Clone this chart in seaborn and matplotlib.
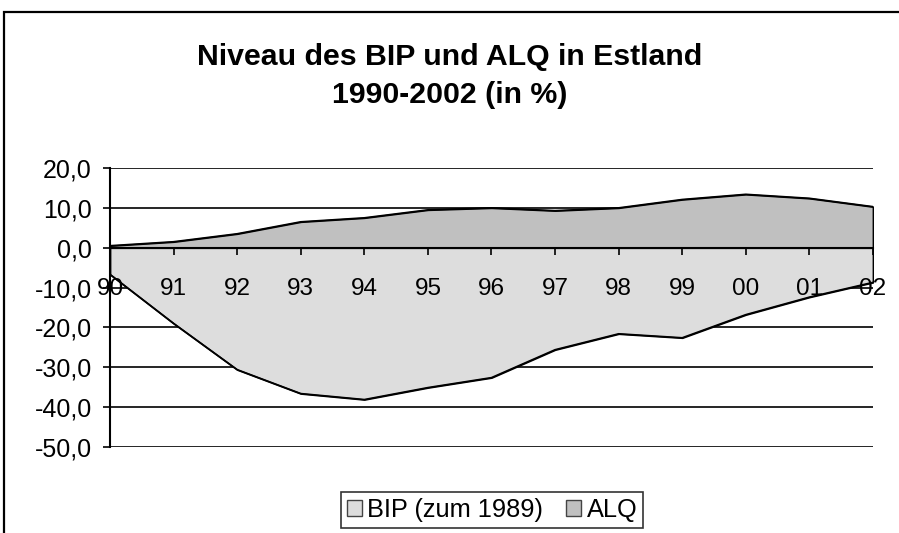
import numpy as np
import pandas as pd
import matplotlib
matplotlib.use("Agg")
import matplotlib.pyplot as plt
from matplotlib.patches import Patch, Rectangle
import seaborn as sns

# ── Data ─────────────────────────────────────────────────────
years = ["90", "91", "92", "93", "94", "95", "96", "97", "98", "99", "00", "01", "02"]
bip = [-6.7, -19.0, -30.6, -36.6, -38.1, -35.1, -32.6, -25.6, -21.6, -22.6, -16.8, -12.4, -8.7]
alq = [0.5, 1.5, 3.5, 6.5, 7.5, 9.5, 10.0, 9.3, 10.0, 12.1, 13.4, 12.4, 10.3]
yticks = [20, 10, 0, -10, -20, -30, -40, -50]

BIP_COLOR = "#dddddd"
ALQ_COLOR = "#c0c0c0"

df = pd.DataFrame({"pos": np.arange(len(years)), "BIP": bip, "ALQ": alq})

sns.set_style("white")
plt.rcParams["font.family"] = ["Liberation Sans", "DejaVu Sans"]
plt.rcParams["text.color"] = "black"
plt.rcParams["xtick.color"] = "black"
plt.rcParams["ytick.color"] = "black"

fig = plt.figure(figsize=(8.99, 5.33), dpi=100)
ax = fig.add_axes([0.1224, 0.1614, 0.971 - 0.1224, 0.6848 - 0.1614])

# gridlines under the areas
for v in yticks:
    ax.axhline(v, color="black", lw=1.2, zorder=1)

# areas
ax.fill_between(df["pos"], 0, df["BIP"], facecolor=BIP_COLOR, edgecolor="black", lw=1.2, zorder=2)
ax.fill_between(df["pos"], 0, df["ALQ"], facecolor=ALQ_COLOR, edgecolor="black", lw=1.2, zorder=2)
sns.lineplot(data=df, x="pos", y="BIP", color="black", lw=1.2, ax=ax, zorder=2.2)
sns.lineplot(data=df, x="pos", y="ALQ", color="black", lw=1.2, ax=ax, zorder=2.2)

ax.set_xlim(0, len(years) - 1)
ax.set_ylim(-50, 20)
ax.set_yticks(yticks)
ax.set_yticklabels([f"{v:.1f}".replace(".", ",") for v in yticks])
ax.set_xticks(df["pos"])
ax.set_xticklabels(years)
ax.set_xlabel("")
ax.set_ylabel("")
ax.grid(False)
ax.set_axisbelow(False)

for s in ["top", "right"]:
    ax.spines[s].set_visible(False)
ax.spines["left"].set_color("black")
ax.spines["left"].set_linewidth(1.5)
ax.spines["bottom"].set_position(("data", 0))
ax.spines["bottom"].set_color("black")
ax.spines["bottom"].set_linewidth(1.5)
ax.tick_params(axis="x", direction="out", length=5, width=1.2, pad=17,
               labelsize=17.5, bottom=True)
ax.tick_params(axis="y", direction="out", length=5, width=1.2, pad=8,
               labelsize=18, left=True)

# title
fig.text(0.5, 1 - 57 / 533, "Niveau des BIP und ALQ in Estland", ha="center", va="center",
         fontsize=21.8, fontweight="bold")
fig.text(0.5, 1 - 95 / 533, "1990-2002 (in %)", ha="center", va="center",
         fontsize=21.8, fontweight="bold")

# legend
handles = [Patch(facecolor=BIP_COLOR, edgecolor="#444444", lw=1),
           Patch(facecolor=ALQ_COLOR, edgecolor="#444444", lw=1)]
leg = fig.legend(handles, ["BIP (zum 1989)", "ALQ"], loc="center", ncol=2,
                 bbox_to_anchor=(492 / 899, 1 - 510 / 533), fontsize=18.3, frameon=True,
                 fancybox=False, edgecolor="black", handlelength=0.6, handleheight=0.6,
                 handletextpad=0.2, columnspacing=0.9, borderpad=0.25, borderaxespad=0)
leg.get_frame().set_linewidth(1.2)

# chart frame
fig.patches.append(Rectangle((4 / 899, -0.2), 1.2, 1.2 - 12 / 533,
                             transform=fig.transFigure, fill=False, edgecolor="black", lw=1.6))

fig.savefig("out.png", dpi=100)
